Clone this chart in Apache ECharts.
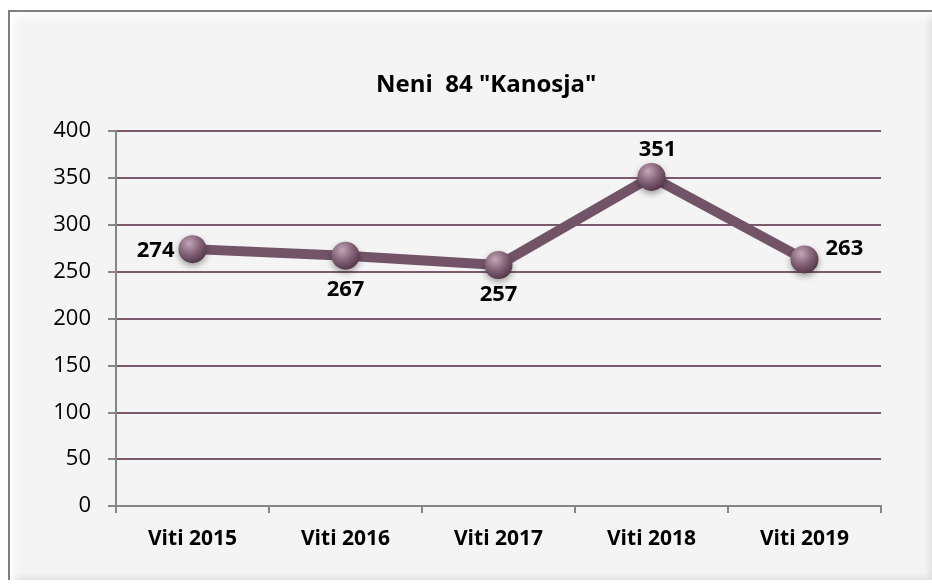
<!DOCTYPE html>
<html lang="sq">
<head>
    <meta charset="UTF-8">
    <title>Neni 84 "Kanosja"</title>
    <script src="https://cdn.jsdelivr.net/npm/echarts@6.0.0/dist/echarts.min.js"></script>
    <style>
        body {
            margin: 0;
            padding: 0;
            background: #ffffff;
            width: 932px;
            height: 585px;
            overflow: hidden;
            position: relative;
        }
        /* kornizë me efekt reliev si në Excel */
        #frame {
            position: absolute;
            left: 8px;
            top: 10px;
            width: 924px;
            height: 570px;
            box-sizing: border-box;
            background: #f4f4f4;
            border-left: 2px solid #7f7f7f;
            border-top: 2px solid #7f7f7f;
            box-shadow: inset 10px 10px 8px -6px #ffffff, inset -6px -6px 6px -4px #dcdcdc;
        }
        #chart {
            position: absolute;
            left: 0;
            top: 0;
            width: 932px;
            height: 585px;
        }
    </style>
</head>
<body>
    <div id="frame"></div>
    <div id="chart"></div>

    <script>
        // të dhënat
        var categories = ['Viti 2015', 'Viti 2016', 'Viti 2017', 'Viti 2018', 'Viti 2019'];
        var values = [274, 267, 257, 351, 263];
        var labelPositions = ['left', 'bottom', 'bottom', 'top', 'right'];
        var labelOffsets = [[0, 2], [0, 0], [0, -2], [6, 0], [0, -11]];
        var labelDistances = [4, 9, 7, 2, 7];

        var lineColor = '#735466';
        var fontFamily = '"Open Sans", "Noto Sans", sans-serif';

        var chart = echarts.init(document.getElementById('chart'));

        var seriesData = values.map(function (v, i) {
            return {
                value: v,
                label: {
                    position: labelPositions[i],
                    offset: labelOffsets[i],
                    distance: labelDistances[i]
                }
            };
        });

        var option = {
            backgroundColor: 'transparent',
            animation: false,
            title: {
                text: 'Neni  84 "Kanosja"',
                left: 371,
                top: 68,
                textStyle: {
                    fontFamily: fontFamily,
                    fontSize: 24,
                    fontWeight: 'bold',
                    color: '#000'
                }
            },
            grid: {
                left: 116,
                right: 51,
                top: 131,
                bottom: 79
            },
            xAxis: {
                type: 'category',
                data: categories,
                boundaryGap: true,
                axisLine: { lineStyle: { color: '#868686', width: 2 } },
                axisTick: { show: true, length: 7, lineStyle: { color: '#868686', width: 2 } },
                axisLabel: {
                    margin: 23,
                    fontFamily: fontFamily,
                    fontSize: 21,
                    fontWeight: 'bold',
                    color: '#000'
                }
            },
            yAxis: {
                type: 'value',
                min: 0,
                max: 400,
                interval: 50,
                axisLine: { show: true, lineStyle: { color: '#868686', width: 2 } },
                axisTick: { show: true, length: 8, lineStyle: { color: '#868686', width: 2 } },
                axisLabel: {
                    margin: 25,
                    fontFamily: fontFamily,
                    fontSize: 22,
                    color: '#000'
                },
                splitLine: { lineStyle: { color: '#7b5a6e', width: 2 } }
            },
            series: [{
                type: 'line',
                data: seriesData,
                symbol: 'circle',
                symbolSize: 28,
                lineStyle: { color: lineColor, width: 10 },
                itemStyle: {
                    color: new echarts.graphic.RadialGradient(0.38, 0.3, 0.75, [
                        { offset: 0, color: '#c4a6b6' },
                        { offset: 0.5, color: '#86657a' },
                        { offset: 1, color: '#4e3242' }
                    ]),
                    shadowBlur: 6,
                    shadowColor: 'rgba(0,0,0,0.35)',
                    shadowOffsetY: 3
                },
                label: {
                    show: true,
                    fontFamily: fontFamily,
                    fontSize: 22,
                    fontWeight: 'bold',
                    color: '#000'
                },
                z: 3
            }]
        };

        chart.setOption(option);

        window.addEventListener('resize', function () {
            chart.resize();
        });
    </script>
</body>
</html>
